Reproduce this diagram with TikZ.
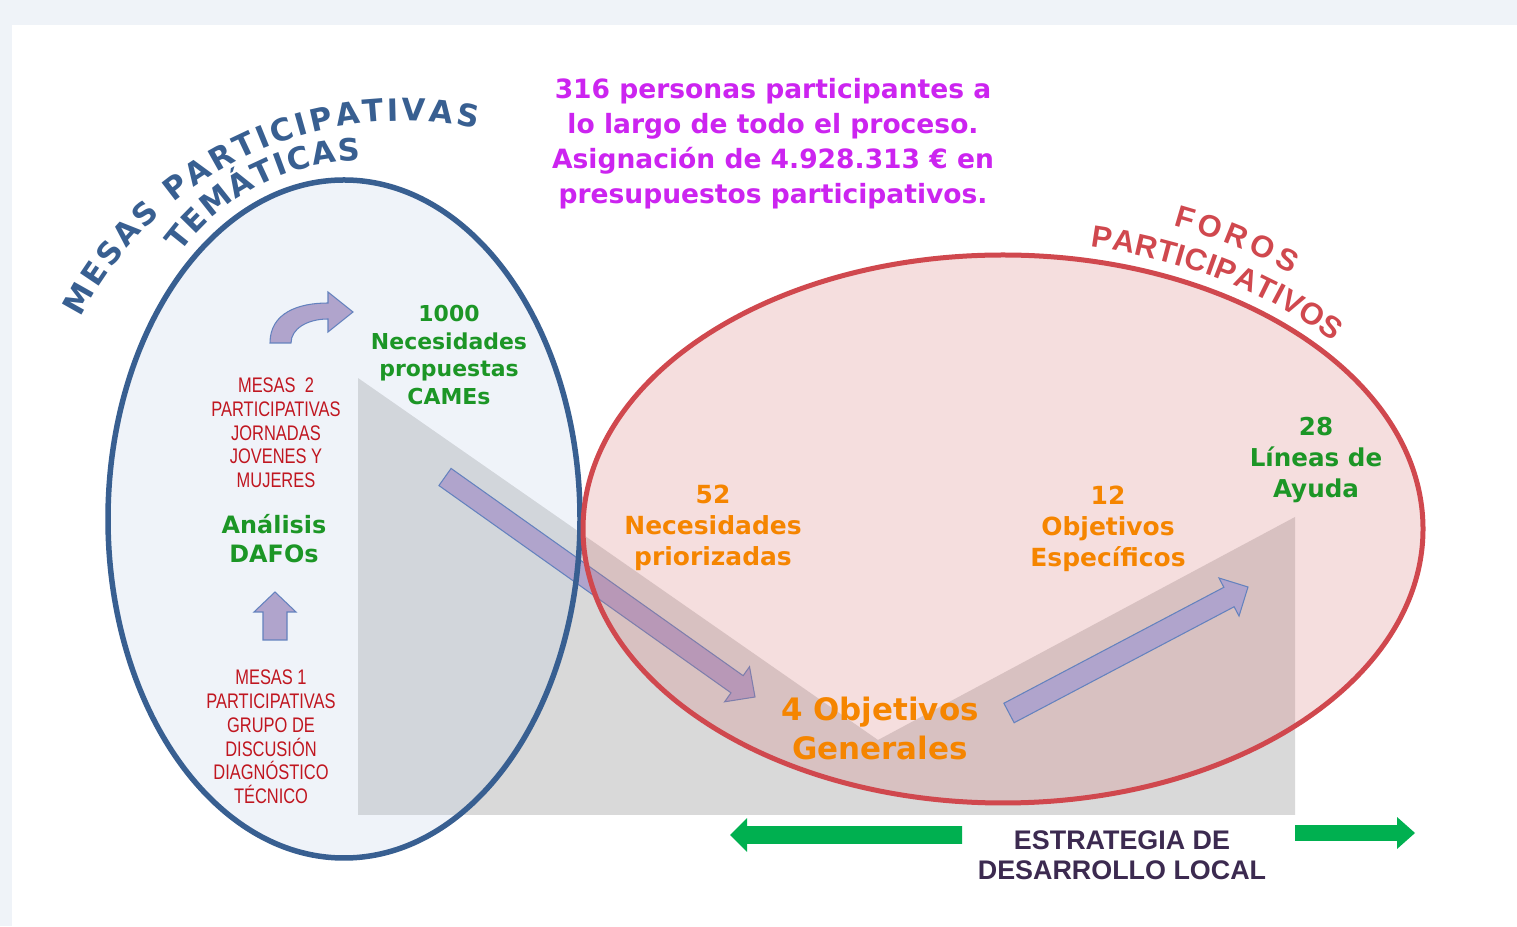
\documentclass[tikz,border=0pt]{standalone}
\usepackage{fontspec}
\setmainfont{Liberation Sans}
\newfontfamily\roundfont{DejaVu Sans}
\newfontfamily\narrowfont[FakeStretch=0.78]{Liberation Sans}
\usetikzlibrary{calc,decorations.text}

\definecolor{fondo}{RGB}{239,243,248}
\definecolor{gris}{RGB}{217,217,217}
\definecolor{azulfill}{RGB}{184,203,231}
\definecolor{azul}{RGB}{56,95,145}
\definecolor{rojofill}{RGB}{213,116,116}
\definecolor{rojo}{RGB}{208,72,78}
\definecolor{lila}{RGB}{176,164,204}
\definecolor{lilaborde}{RGB}{100,130,190}
\definecolor{verde}{RGB}{0,176,80}
\definecolor{verdetxt}{RGB}{28,150,38}
\definecolor{naranja}{RGB}{245,133,0}
\definecolor{rojotxt}{RGB}{192,22,32}
\definecolor{titulocol}{RGB}{204,36,240}
\definecolor{morado}{RGB}{60,42,80}

\newcommand\curvafont{\roundfont\bfseries\fontsize{17.5}{20}\selectfont}
\newcommand\forosfont{\bfseries\fontsize{17.5}{20}\selectfont}

% block arrow: [style]{from}{to}{shaft half width}{head half width}{head length}
\newcommand\blockarrow[6][]{%
  \coordinate (ba-s) at ($(#3)!#6!(#2)$);
  \path[#1] ($(#2)!#4!90:(#3)$) -- ($(ba-s)!#4!90:(#3)$) -- ($(ba-s)!#5!90:(#3)$) -- (#3)
    -- ($(ba-s)!#5!-90:(#3)$) -- ($(ba-s)!#4!-90:(#3)$) -- ($(#2)!#4!-90:(#3)$) -- cycle;}

\tikzset{
  bloque/.style={fill=lila, draw=lilaborde, line width=0.6pt},
  flechaverde/.style={fill=verde},
  arcotexto/.style={decorate, decoration={text along path, text align={fit to path}, text={#1}}},
  titulo/.style={text=titulocol, align=center, font=\roundfont\bfseries\fontsize{15.1}{19.9}\selectfont},
  verdetxt/.style={text=verdetxt, align=center, font=\roundfont\bfseries\fontsize{12.5}{15.8}\selectfont},
  mesastxt/.style={text=rojotxt, align=center, font=\narrowfont\fontsize{12}{13.5}\selectfont},
  naranjatxt/.style={text=naranja, align=center, font=\roundfont\bfseries\fontsize{14.2}{17.6}\selectfont},
  estrategiatxt/.style={text=morado, align=center, font=\bfseries\fontsize{15.3}{17.2}\selectfont},
}

\begin{document}
\begin{tikzpicture}[x=0.02cm, y=0.02cm]
\useasboundingbox (0,0) rectangle (1517,926);
% Background
\fill[fondo] (0,0) rectangle (1517,926);
\fill[white] (12,0) rectangle (1517,901);

% Grey V
\fill[gris] (358,548) -- (878,186) -- (1295,409) -- (1295,111) -- (358,111) -- cycle;

% Mesas
\fill[azulfill, fill opacity=0.21] (344,407) ellipse [x radius=236, y radius=339];

% Arrow down to the general objectives
\coordinate (camesflecha) at (445,449);
\coordinate (generalesin) at (755,229);
\blockarrow[bloque]{camesflecha}{generalesin}{0.21cm}{0.43cm}{0.44cm}

% Foros
\fill[rojofill, fill opacity=0.237] (1003,397) ellipse [x radius=420, y radius=274];
\draw[azul, line width=0.11cm] (344,407) ellipse [x radius=236, y radius=339];
\draw[rojo, line width=0.1cm] (1003,397) ellipse [x radius=420, y radius=274];

% Arrow up to the lines of aid
\coordinate (generalesout) at (1009,213);
\coordinate (lineasin) at (1248,339);
\blockarrow[bloque]{generalesout}{lineasin}{0.22cm}{0.43cm}{0.43cm}

% Small arrows in the left ellipse
\coordinate (subepie) at (275,286);
\coordinate (subepunta) at (275,334);
\blockarrow[bloque]{subepie}{subepunta}{0.24cm}{0.42cm}{0.4cm}
\draw[bloque] (270,583) .. controls (270,613) and (298,623) .. (328,623) -- (328,634) -- (353,614)
  -- (328,594) -- (328,607) .. controls (307,607) and (291,597) .. (291,583) -- cycle;

% Strategy arrows
\coordinate (estrategiaizq) at (962,91);
\coordinate (izqpunta) at (730,91);
\blockarrow[flechaverde]{estrategiaizq}{izqpunta}{0.18cm}{0.34cm}{0.34cm}
\coordinate (estrategiader) at (1295,93);
\coordinate (derpunta) at (1415,93);
\blockarrow[flechaverde]{estrategiader}{derpunta}{0.16cm}{0.32cm}{0.36cm}

% Curved titles
\coordinate (mesasarco) at (402,445);
\coordinate (tematicasarco) at (361,542);
\coordinate (forosarco) at (1003,397);
\path[arcotexto={|\curvafont\color{azul}|MESAS}]
  ([shift={(153:360)}]mesasarco) arc[start angle=153, end angle=132.1, radius=360];
\path[arcotexto={|\curvafont\color{azul}|PARTICIPATIVAS}]
  ([shift={(129.4:360)}]mesasarco) arc[start angle=129.4, end angle=78, radius=360];
\path[arcotexto={|\curvafont\color{azul}|TEMÁTICAS}]
  ([shift={(144:223)}]tematicasarco) arc[start angle=144, end angle=90, radius=223];
\path[arcotexto={|\forosfont\color{rojo}|FOROS}]
  ([shift={(68.5:464 and 326)}]forosarco) arc[start angle=68.5, end angle=51.5, x radius=464, y radius=326];
\path[arcotexto={|\forosfont\color{rojo}|PARTICIPATIVOS}]
  ([shift={(78.4:434 and 288)}]forosarco) arc[start angle=78.4, end angle=40.5, x radius=434, y radius=288];

% Texts
\node[titulo] (titulo) at (773,782) {316 personas participantes a\\lo largo de todo el proceso.\\Asignación de 4.928.313 € en\\presupuestos participativos.};
\node[verdetxt] (cames) at (449,571) {1000\\Necesidades\\propuestas\\CAMEs};
\node[mesastxt] (mesasdos) at (276,493) {MESAS\ \ 2\\PARTICIPATIVAS\\JORNADAS\\JOVENES Y\\MUJERES};
\node[verdetxt, font=\roundfont\bfseries\fontsize{13.6}{16.5}\selectfont] (dafos) at (274,387) {Análisis\\DAFOs};
\node[mesastxt] (mesasuno) at (271,189) {MESAS 1\\PARTICIPATIVAS\\GRUPO DE\\DISCUSIÓN\\DIAGNÓSTICO\\TÉCNICO};
\node[naranjatxt] (priorizadas) at (713,398) {52\\Necesidades\\priorizadas};
\node[naranjatxt] (especificos) at (1108,397) {12\\Objetivos\\Específicos};
\node[naranjatxt, font=\roundfont\bfseries\fontsize{17.6}{22.2}\selectfont] (generales) at (880,198) {4 Objetivos\\Generales};
\node[verdetxt, font=\roundfont\bfseries\fontsize{14}{17.6}\selectfont] (lineas) at (1316,466) {28\\Líneas de\\Ayuda};
\node[estrategiatxt] (estrategia) at (1122,71) {ESTRATEGIA DE\\DESARROLLO LOCAL};
\end{tikzpicture}
\end{document}
